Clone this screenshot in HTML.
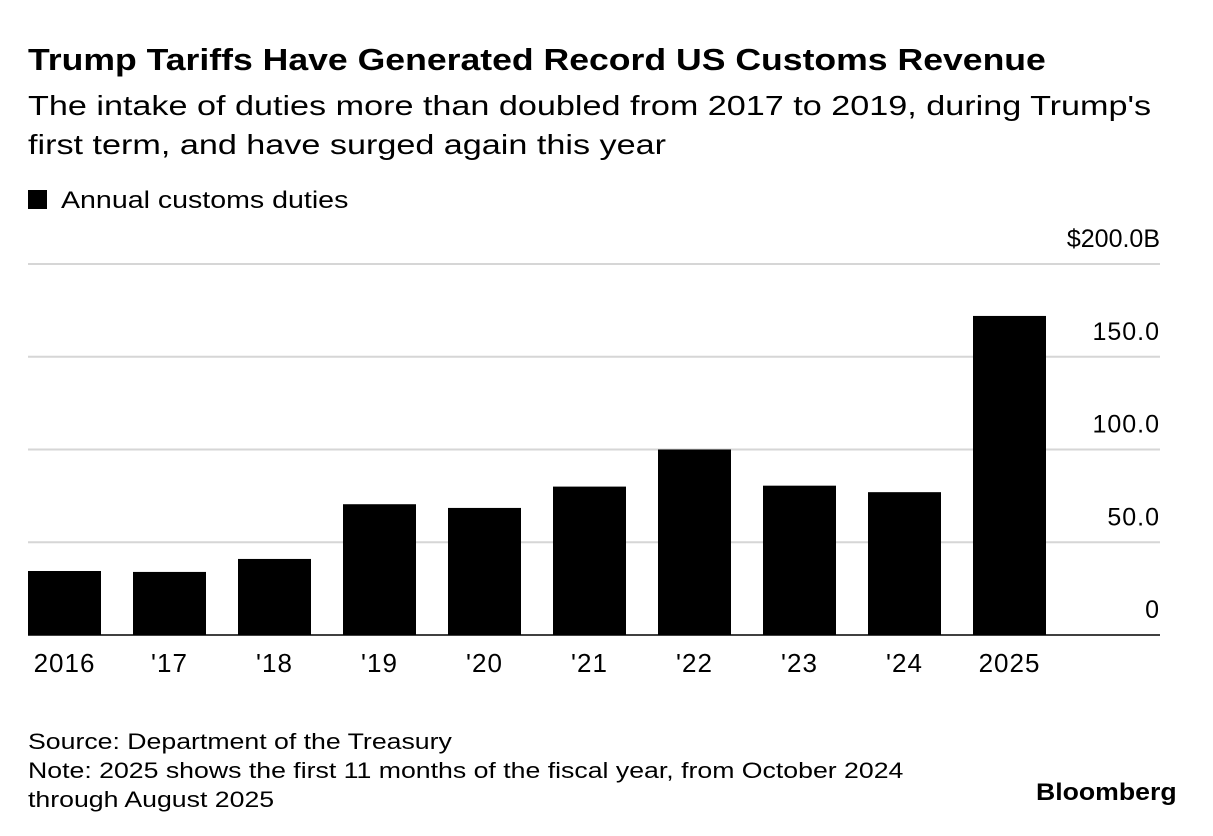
<!DOCTYPE html>
<html><head><meta charset="utf-8">
<style>
body{margin:0;background:#fff;font-family:"Liberation Sans",Arial,sans-serif;color:#000;}
.wrap{position:relative;width:1213px;height:836px;overflow:hidden;}
.t{position:absolute;left:28px;white-space:nowrap;transform-origin:0 0;}
</style></head><body>
<div class="wrap">
<div class="t" style="top:42px;font-size:31px;font-weight:bold;transform:scaleX(1.148);">Trump Tariffs Have Generated Record US Customs Revenue</div>
<div class="t" style="top:86px;font-size:28px;line-height:39px;transform:scaleX(1.22);">The intake of duties more than doubled from 2017 to 2019, during Trump's<br>first term, and have surged again this year</div>
<div class="t" style="top:187px;font-size:24px;"><span style="display:inline-block;width:19px;height:19px;background:#000;margin-right:14px;vertical-align:-1px;"></span><span style="display:inline-block;transform:scaleX(1.19);transform-origin:0 0;">Annual customs duties</span></div>
<svg id="chart" width="1213" height="836" style="position:absolute;left:0;top:0"></svg>
<div class="t" style="top:727px;font-size:22.5px;line-height:29px;transform:scaleX(1.185);">Source: Department of the Treasury<br>Note: 2025 shows the first 11 months of the fiscal year, from October 2024<br>through August 2025</div>
<div class="t" style="left:1036px;top:779px;font-size:24px;font-weight:bold;transform:scaleX(1.11);">Bloomberg</div>
</div>
<script>
const categories=["2016","'17","'18","'19","'20","'21","'22","'23","'24","2025"];
const values=[34.5,34,41,70.5,68.5,80,100,80.5,77,172];
const yTicks=[0,50,100,150,200];
const yTickLabels=["0","50.0","100.0","150.0","$200.0B"];
const svg=document.getElementById('chart');
const NS='http://www.w3.org/2000/svg';
const y0=635,yTop=264,yMax=200;
const y=v=>y0-(v/yMax)*(y0-yTop);
const x=i=>28+i*105;
const bw=73;
yTicks.forEach((t,i)=>{
  const l=document.createElementNS(NS,'line');
  l.setAttribute('x1',28);l.setAttribute('x2',1160);
  l.setAttribute('y1',y(t));l.setAttribute('y2',y(t));
  l.setAttribute('stroke',t===0?'#000':'#d6d6d6');l.setAttribute('stroke-width',t===0?1.5:2);
  
  
  svg.appendChild(l);
  const tx=document.createElementNS(NS,'text');
  tx.setAttribute('x',1160);tx.setAttribute('y',y(t)-17);tx.setAttribute('text-anchor','end');
  tx.setAttribute('font-size','25');tx.setAttribute('font-family','Liberation Sans, Arial, sans-serif');
  if(t!==200) tx.setAttribute('letter-spacing','1');
  tx.textContent=yTickLabels[i];
  
  
  svg.appendChild(tx);
});
values.forEach((v,i)=>{
  const r=document.createElementNS(NS,'rect');
  r.setAttribute('x',x(i));r.setAttribute('width',bw);
  r.setAttribute('y',y(v));r.setAttribute('height',y0-y(v));r.setAttribute('fill','#000');
  
  
  svg.appendChild(r);
  const tx=document.createElementNS(NS,'text');
  tx.setAttribute('x',x(i)+bw/2);tx.setAttribute('y',672);tx.setAttribute('text-anchor','middle');
  tx.setAttribute('font-size','26');tx.setAttribute('letter-spacing','1');tx.setAttribute('font-family','Liberation Sans, Arial, sans-serif');
  tx.textContent=categories[i];
  
  
  svg.appendChild(tx);
});
</script>
</body></html>
